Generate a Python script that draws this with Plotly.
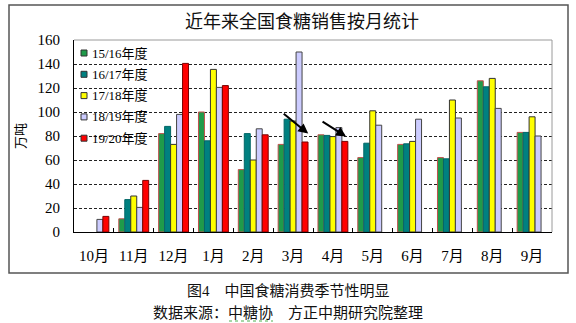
import plotly.graph_objects as go

# ---------------- data ----------------
months = ["10月", "11月", "12月", "1月", "2月", "3月", "4月", "5月", "6月", "7月", "8月", "9月"]
series_names = ["15/16年度", "16/17年度", "17/18年度", "18/19年度", "19/20年度"]
s1516 = [None, 11, 82, 100, 52, 73, 81, 62, 73, 62, 126, 83]
s1617 = [None, 27, 88, 76, 82, 94, 80.5, 74, 73.5, 61, 121, 83]
s1718 = [None, 30, 73, 135.5, 60, 92.5, 79.5, 101, 75.5, 110, 128, 96]
s1819 = [10.5, 20.5, 98, 120.5, 86, 150, 87, 89, 94, 95, 103, 80]
s1920 = [13, 43, 140.5, 122, 81, 75, 75.5, None, None, None, None, None]
y_ticks = [0, 20, 40, 60, 80, 100, 120, 140, 160]

# ---------------- style ----------------
fills = ["#1f9b4a", "#008080", "#ffff00", "#ccccff", "#ff0000"]
edges = ["#c0504d", "#006666", "#333333", "#444444", "#7a0000"]
FONT = "Liberation Serif, Noto Sans CJK SC, serif"

W, H = 576, 323
L, R, T, B = 74, 552, 40, 232  # plot area in pixels


def px(xp):
    return (xp - L) / (R - L)


def py(yp):
    return (B - yp) / (B - T)


fig = go.Figure()
for name, vals, fc, ec in zip(series_names, [s1516, s1617, s1718, s1819, s1920], fills, edges):
    fig.add_trace(go.Bar(
        x=months, y=vals, name=name,
        marker=dict(color=fc, line=dict(color=ec, width=1)),
        showlegend=False,
    ))

shapes = []
# outer chart frame
shapes.append(dict(type="rect", xref="paper", yref="paper",
                   x0=px(9), x1=px(568), y0=py(273), y1=py(5),
                   line=dict(color="#555555", width=1.5), fillcolor="rgba(0,0,0,0)", layer="below"))
# plot area border (top / right, gray)
shapes.append(dict(type="line", xref="paper", yref="paper", x0=0, x1=1, y0=1, y1=1,
                   line=dict(color="#9a9a9a", width=1)))
shapes.append(dict(type="line", xref="paper", yref="paper", x0=1, x1=1, y0=0, y1=1,
                   line=dict(color="#9a9a9a", width=1)))
# legend background (hides gridlines)
shapes.append(dict(type="rect", xref="paper", yref="paper",
                   x0=px(75), x1=px(158), y0=py(150), y1=py(41),
                   line=dict(width=0), fillcolor="white", layer="between"))
# green wavy proof-reading underline under the source name
shapes.append(dict(type="line", xref="paper", yref="paper",
                   x0=px(229), x1=px(273), y0=py(321), y1=py(321),
                   line=dict(color="#4caf50", width=1, dash="dot")))

annotations = []
# manual legend
for i, (name, fc, ec) in enumerate(zip(series_names, fills, edges)):
    yc = 53 + 21.3 * i
    shapes.append(dict(type="rect", xref="paper", yref="paper",
                       xsizemode="pixel", ysizemode="pixel",
                       xanchor=px(84), yanchor=py(yc),
                       x0=-3, x1=3, y0=-3, y1=3,
                       fillcolor=fc, line=dict(color="#333333", width=1)))
    annotations.append(dict(text=name, xref="paper", yref="paper", x=px(90), y=py(yc),
                            xanchor="left", yanchor="middle", showarrow=False,
                            font=dict(family=FONT, size=13, color="black")))

# title
annotations.append(dict(text="近年来全国食糖销售按月统计", xref="paper", yref="paper",
                        x=px(302), y=py(22), xanchor="center", yanchor="middle",
                        showarrow=False, font=dict(family=FONT, size=18, color="#111111")))
# captions
annotations.append(dict(text="图4　中国食糖消费季节性明显", xref="paper", yref="paper",
                        x=px(288), y=py(291), xanchor="center", yanchor="middle",
                        showarrow=False, font=dict(family=FONT, size=15, color="#111111")))
annotations.append(dict(text="数据来源：中糖协　方正中期研究院整理", xref="paper", yref="paper",
                        x=px(288), y=py(312), xanchor="center", yanchor="middle",
                        showarrow=False, font=dict(family=FONT, size=15, color="#111111")))
# arrows (data-anchored)
annotations.append(dict(x=5.38, y=82, xref="x", yref="y", ax=-26, ay=-21, text="",
                        showarrow=True, arrowhead=2, arrowsize=1, arrowwidth=2, arrowcolor="black"))
annotations.append(dict(x=6.33, y=79.5, xref="x", yref="y", ax=-25, ay=-16, text="",
                        showarrow=True, arrowhead=2, arrowsize=1, arrowwidth=2, arrowcolor="black"))

fig.update_layout(
    width=W, height=H,
    margin=dict(l=L, r=W - R, t=T, b=H - B, pad=0),
    paper_bgcolor="white", plot_bgcolor="rgba(0,0,0,0)",
    barmode="group", bargap=0.25, bargroupgap=0,
    shapes=shapes, annotations=annotations,
    font=dict(family=FONT, size=14, color="black"),
)
fig.update_xaxes(
    type="category", showline=True, linecolor="black", linewidth=1,
    ticks="inside", tickson="boundaries", ticklen=4, tickcolor="black",
    showgrid=False, tickfont=dict(family=FONT, size=15, color="black"),
    ticklabelstandoff=10,
)
fig.update_yaxes(
    range=[0, 160], tickvals=y_ticks, showline=True, linecolor="black", linewidth=1,
    ticks="", showgrid=True, gridcolor="#222222", gridwidth=1, griddash="3px,2px",
    tickfont=dict(family=FONT, size=15, color="black"), ticklabelstandoff=10,
    zeroline=False,
    title=dict(text="万吨", font=dict(family=FONT, size=13, color="black"), standoff=8),
)

fig.write_html("out.html")
